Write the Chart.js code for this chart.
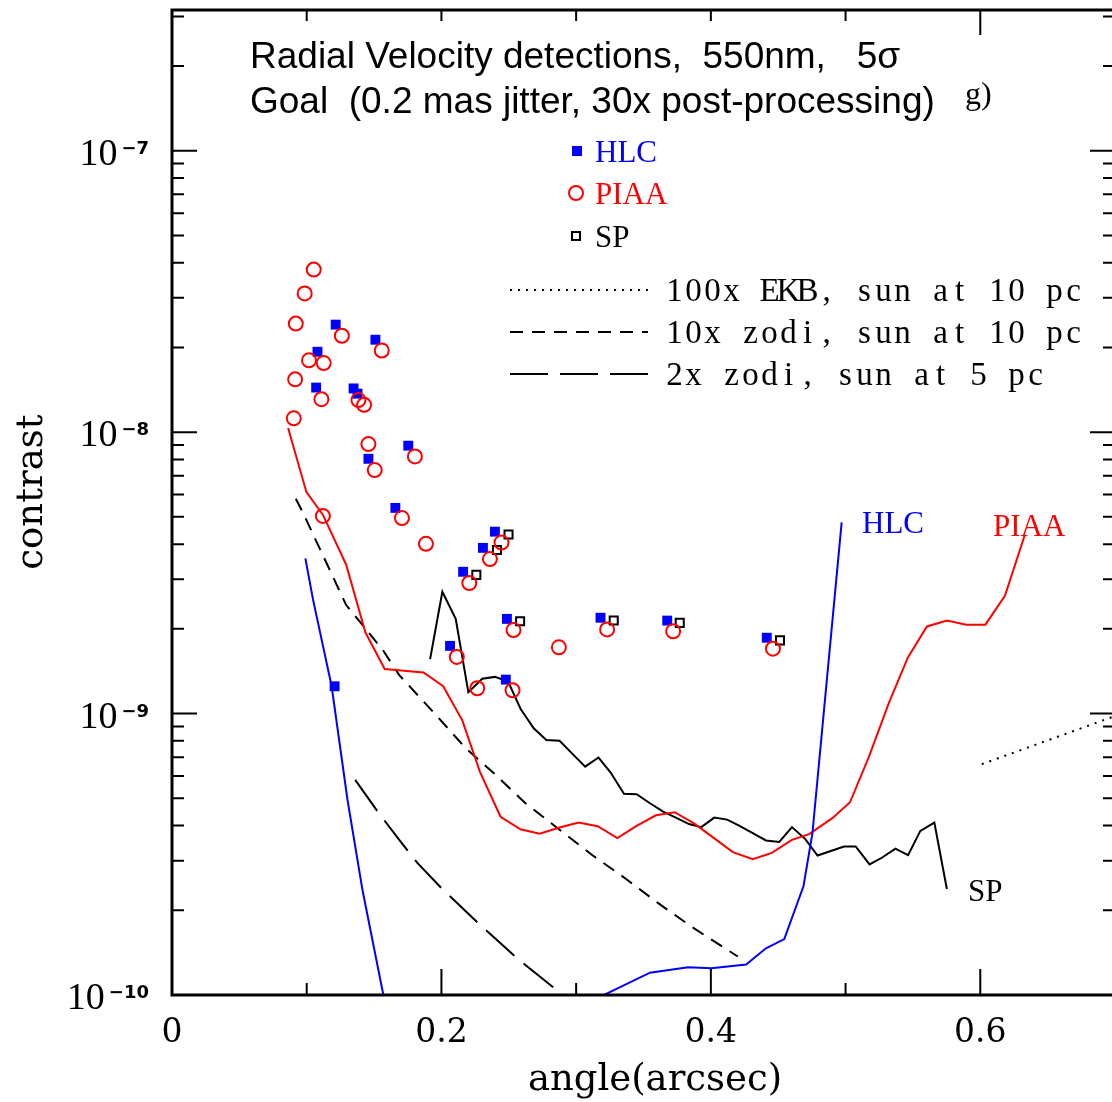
<!DOCTYPE html>
<html>
<head>
<meta charset="utf-8">
<script src="https://cdn.jsdelivr.net/npm/chart.js@4.4.1/dist/chart.umd.min.js"></script>
<style>
  html, body { margin: 0; padding: 0; background: #fff; overflow: hidden; }
  #wrap { width: 1124px; height: 1102px; }
</style>
</head>
<body>
<div id="wrap"><canvas id="rvChart" width="1124" height="1102"></canvas></div>
<script>
// RV detections, marker points (angle in arcsec, contrast)
const hlcPtsX = [0.107, 0.108, 0.1207, 0.1215, 0.1348, 0.1377, 0.1458, 0.151, 0.1658, 0.1754, 0.2064, 0.2161, 0.2308, 0.2397, 0.2478, 0.2486, 0.3181, 0.3676, 0.4415];
const hlcPtsY = [1.44e-8, 1.93e-8, 1.25e-9, 2.41e-8, 1.43e-8, 1.37e-8, 8.04e-9, 2.13e-8, 5.38e-9, 8.95e-9, 1.74e-9, 3.19e-9, 3.88e-9, 4.43e-9, 1.32e-9, 2.17e-9, 2.19e-9, 2.14e-9, 1.86e-9];

const piaaPtsX = [0.0904, 0.0914, 0.0919, 0.0985, 0.1017, 0.1052, 0.1109, 0.1120, 0.1126, 0.1261, 0.1384, 0.1426, 0.1458, 0.1505, 0.1557, 0.1707, 0.1803, 0.1885, 0.2114, 0.2207, 0.2266, 0.2360, 0.2446, 0.2528, 0.2535, 0.2872, 0.3230, 0.3720, 0.4461];
const piaaPtsY = [1.12e-8, 1.54e-8, 2.43e-8, 3.11e-8, 1.80e-8, 3.78e-8, 1.31e-8, 5.04e-9, 1.76e-8, 2.20e-8, 1.30e-8, 1.25e-8, 9.07e-9, 7.33e-9, 1.95e-8, 4.95e-9, 8.20e-9, 4.01e-9, 1.59e-9, 2.91e-9, 1.23e-9, 3.54e-9, 4.05e-9, 1.21e-9, 1.98e-9, 1.72e-9, 1.99e-9, 1.96e-9, 1.70e-9];

const spPtsX = [0.2259, 0.2412, 0.2498, 0.2584, 0.3279, 0.3769, 0.4513];
const spPtsY = [3.11e-9, 3.81e-9, 4.33e-9, 2.13e-9, 2.14e-9, 2.10e-9, 1.82e-9];

// contrast curves
const hlcCurveAX = [0.0990, 0.1047, 0.1185, 0.1303, 0.1414, 0.1569, 0.1600];
const hlcCurveAY = [3.56e-9, 2.54e-9, 1.25e-9, 4.93e-10, 2.36e-10, 1.0e-10, 8.5e-11];
const hlcCurveBX = [0.309, 0.3548, 0.3831, 0.4003, 0.4262, 0.4409, 0.4545, 0.4688, 0.4754, 0.4971];
const hlcCurveBY = [9.4e-11, 1.20e-10, 1.254e-10, 1.244e-10, 1.283e-10, 1.466e-10, 1.58e-10, 2.44e-10, 3.76e-10, 4.78e-9];

const piaaCurveX = [0.0862, 0.0998, 0.1120, 0.1293, 0.1436, 0.1579, 0.1722, 0.1867, 0.2013, 0.2155, 0.2286, 0.2439, 0.2587, 0.2729, 0.2870, 0.3018, 0.3160, 0.3306, 0.3449, 0.3592, 0.3732, 0.3875, 0.4016, 0.4163, 0.4311, 0.4452, 0.4602, 0.4730, 0.4902, 0.5033, 0.5174, 0.5321, 0.5462, 0.5604, 0.5753, 0.5895, 0.6038, 0.6183, 0.6331];
const piaaCurveY = [1.034e-8, 6.12e-9, 5.09e-9, 3.38e-9, 1.94e-9, 1.44e-9, 1.42e-9, 1.40e-9, 1.25e-9, 9.46e-10, 6.21e-10, 4.30e-10, 3.88e-10, 3.74e-10, 3.93e-10, 4.10e-10, 3.98e-10, 3.61e-10, 3.99e-10, 4.35e-10, 4.46e-10, 4.07e-10, 3.63e-10, 3.22e-10, 3.04e-10, 3.20e-10, 3.56e-10, 3.73e-10, 4.25e-10, 4.84e-10, 7.03e-10, 1.089e-9, 1.58e-9, 2.04e-9, 2.14e-9, 2.07e-9, 2.07e-9, 2.62e-9, 4.32e-9];

const spCurveX = [0.1916, 0.2007, 0.2106, 0.2200, 0.2303, 0.2397, 0.2495, 0.2587, 0.2685, 0.2779, 0.2877, 0.2973, 0.3067, 0.3166, 0.3256, 0.3355, 0.3449, 0.3548, 0.3646, 0.3740, 0.3838, 0.3929, 0.4025, 0.4121, 0.4213, 0.4311, 0.4409, 0.4508, 0.4602, 0.4701, 0.4792, 0.4890, 0.4989, 0.5075, 0.5178, 0.5272, 0.5370, 0.5464, 0.5555, 0.5659, 0.5752];
const spCurveY = [1.561e-9, 2.71e-9, 2.17e-9, 1.19e-9, 1.33e-9, 1.35e-9, 1.30e-9, 1.04e-9, 8.87e-10, 8.06e-10, 8.0e-10, 7.19e-10, 6.48e-10, 6.98e-10, 6.17e-10, 5.19e-10, 5.17e-10, 4.80e-10, 4.48e-10, 4.27e-10, 4.05e-10, 3.95e-10, 4.27e-10, 4.20e-10, 3.99e-10, 3.76e-10, 3.54e-10, 3.50e-10, 3.95e-10, 3.58e-10, 3.13e-10, 3.25e-10, 3.37e-10, 3.37e-10, 2.91e-10, 3.08e-10, 3.31e-10, 3.14e-10, 3.83e-10, 4.10e-10, 2.38e-10];

// background levels
const ekbX = [0.6011, 0.70];
const ekbY = [6.61e-10, 9.8e-10];
const zodi10X = [0.0919, 0.0973, 0.1293, 0.1564, 0.1687, 0.1970, 0.2180, 0.2402, 0.2624, 0.2846, 0.3116, 0.3363, 0.3609, 0.3855, 0.4200];
const zodi10Y = [5.80e-9, 5.16e-9, 2.43e-9, 1.685e-9, 1.37e-9, 9.76e-10, 7.53e-10, 6.06e-10, 4.80e-10, 3.97e-10, 3.15e-10, 2.60e-10, 2.12e-10, 1.75e-10, 1.37e-10];
const zodi2X = [0.1360, 0.1527, 0.1687, 0.1823, 0.2007, 0.2279, 0.2562, 0.2857, 0.2914];
const zodi2Y = [5.81e-10, 4.48e-10, 3.56e-10, 2.94e-10, 2.38e-10, 1.79e-10, 1.35e-10, 1.04e-10, 0.96e-10];

const xTicks = [0, 0.1, 0.2, 0.3, 0.4, 0.5, 0.6, 0.7];
const xTickLabels = ['0', '', '0.2', '', '0.4', '', '0.6', ''];
const yDecades = [-10, -9, -8, -7];

const lineKeys = [
    { text: '100x EKB, sun at 10 pc', dash: [2, 6] },
    { text: '10x zodi, sun at 10 pc', dash: [13, 9] },
    { text: '2x zodi, sun at 5 pc', dash: [38, 12] }
];

function pts(xs, ys) {
    return xs.map((x, i) => ({ x: x, y: ys[i] }));
}

function curve(xs, ys, color, dash) {
    return {
        data: pts(xs, ys),
        showLine: true,
        borderColor: color,
        borderWidth: 2,
        borderDash: dash || [],
        pointRadius: 0,
        fill: false,
        tension: 0
    };
}

const SERIF = '"Liberation Serif", "Times New Roman", serif';
const DSERIF = '"DejaVu Serif", serif';

const framePlugin = {
    id: 'frame',
    afterDraw(chart) {
        const ctx = chart.ctx;
        const xs = chart.scales.x, ys = chart.scales.y;
        const a = chart.chartArea;
        ctx.save();
        ctx.strokeStyle = '#000';
        ctx.fillStyle = '#000';

        // axes frame
        ctx.lineWidth = 3;
        ctx.setLineDash([]);
        ctx.strokeRect(a.left, a.top, a.right - a.left, a.bottom - a.top);

        // x ticks
        ctx.lineWidth = 2;
        xTicks.forEach((v, i) => {
            const px = xs.getPixelForValue(v);
            const major = i % 2 === 0;
            ctx.beginPath();
            ctx.moveTo(px, a.bottom);
            ctx.lineTo(px, a.bottom - (major ? 26 : 12));
            ctx.moveTo(px, a.top);
            ctx.lineTo(px, a.top + (v === 0.6 ? 25 : 11));
            ctx.stroke();
        });

        // y ticks, decades and 2..9
        for (let e = -10; e <= -7; e++) {
            for (let m = 1; m <= 9; m++) {
                const v = m * Math.pow(10, e);
                if (v > ys.max * 1.0001) continue;
                const py = ys.getPixelForValue(v);
                const len = m === 1 ? 25 : 12;
                ctx.beginPath();
                ctx.moveTo(a.left, py);
                ctx.lineTo(a.left + len, py);
                ctx.moveTo(a.right, py);
                ctx.lineTo(a.right - len, py);
                ctx.stroke();
            }
        }

        // x tick labels
        ctx.font = '33px ' + DSERIF;
        ctx.textAlign = 'center';
        ctx.textBaseline = 'alphabetic';
        xTicks.forEach((v, i) => {
            if (!xTickLabels[i]) return;
            ctx.fillText(xTickLabels[i], xs.getPixelForValue(v), a.bottom + 47);
        });

        // y tick labels 10^n
        yDecades.forEach(e => {
            const py = ys.getPixelForValue(Math.pow(10, e));
            ctx.font = 'bold 18px "DejaVu Sans", sans-serif';
            const sup = '\u2212' + Math.abs(e);
            const supW = ctx.measureText(sup).width;
            const sx = 149 - supW;
            ctx.textAlign = 'left';
            ctx.fillText(sup, sx, py + 3);
            ctx.font = '38px ' + SERIF;
            ctx.textAlign = 'right';
            ctx.fillText('10', sx - 4, py + 14);
        });

        // axis titles
        ctx.font = '37px ' + DSERIF;
        ctx.textAlign = 'center';
        ctx.fillText('angle(arcsec)', 655, 1090);
        ctx.save();
        ctx.translate(42, 492);
        ctx.rotate(-Math.PI / 2);
        ctx.fillText('contrast', 0, 0);
        ctx.restore();

        // header text
        ctx.textAlign = 'left';
        ctx.font = '37px "Liberation Sans", Arial, sans-serif';
        ctx.fillText('Radial Velocity detections,  550nm,   5\u03c3', 250, 68);
        ctx.fillText('Goal  (0.2 mas jitter, 30x post-processing)', 250, 113);
        ctx.font = '32px ' + SERIF;
        ctx.fillText('g)', 965, 104);

        // symbol key
        ctx.fillStyle = '#0000ff';
        ctx.fillRect(572, 146, 10, 10);
        ctx.strokeStyle = '#ff0000';
        ctx.lineWidth = 2;
        ctx.beginPath();
        ctx.arc(576, 193, 7, 0, Math.PI * 2);
        ctx.stroke();
        ctx.strokeStyle = '#000';
        ctx.strokeRect(572, 232, 8, 8);
        ctx.font = '31px ' + SERIF;
        ctx.fillStyle = '#0000ff';
        ctx.fillText('HLC', 595, 162);
        ctx.fillStyle = '#ff0000';
        ctx.fillText('PIAA', 595, 204);
        ctx.fillStyle = '#000';
        ctx.fillText('SP', 595, 247);

        // line key
        lineKeys.forEach((k, i) => {
            const y = 290 + i * 42;
            ctx.strokeStyle = '#000';
            ctx.lineWidth = 2;
            ctx.setLineDash(k.dash);
            ctx.beginPath();
            ctx.moveTo(510, y);
            ctx.lineTo(648, y);
            ctx.stroke();
            ctx.setLineDash([]);
            ctx.font = '33px ' + SERIF;
            ctx.textAlign = 'center';
            for (let c = 0; c < k.text.length; c++) {
                ctx.fillText(k.text[c], 665 + 9.5 + c * 19, y + 11);
            }
        });

        // curve names
        ctx.textAlign = 'left';
        ctx.font = '31px ' + SERIF;
        ctx.fillStyle = '#0000ff';
        ctx.fillText('HLC', 862, 533);
        ctx.fillStyle = '#ff0000';
        ctx.fillText('PIAA', 993, 536);
        ctx.fillStyle = '#000';
        ctx.fillText('SP', 968, 901);
        ctx.restore();
    }
};

new Chart(document.getElementById('rvChart').getContext('2d'), {
    type: 'scatter',
    data: {
        datasets: [
            {
                data: pts(piaaPtsX, piaaPtsY),
                pointStyle: 'circle',
                pointRadius: 7,
                borderColor: '#ff0000',
                backgroundColor: 'rgba(0,0,0,0)',
                borderWidth: 2
            },
            {
                data: pts(spPtsX, spPtsY),
                pointStyle: 'rect',
                pointRadius: 5.7,
                borderColor: '#000000',
                backgroundColor: 'rgba(0,0,0,0)',
                borderWidth: 2
            },
            {
                data: pts(hlcPtsX, hlcPtsY),
                pointStyle: 'rect',
                pointRadius: 7,
                borderWidth: 0,
                backgroundColor: '#0000ff',
                borderColor: '#0000ff'
            },
            curve(hlcCurveAX, hlcCurveAY, '#0000ff'),
            curve(hlcCurveBX, hlcCurveBY, '#0000ff'),
            curve(piaaCurveX, piaaCurveY, '#ff0000'),
            curve(spCurveX, spCurveY, '#000000'),
            curve(ekbX, ekbY, '#000000', [2, 6]),
            curve(zodi10X, zodi10Y, '#000000', [13, 9]),
            curve(zodi2X, zodi2Y, '#000000', [38, 12])
        ]
    },
    options: {
        responsive: false,
        animation: false,
        devicePixelRatio: 1,
        layout: { padding: { left: 172, top: 10, right: 5, bottom: 107 } },
        plugins: {
            legend: { display: false },
            tooltip: { enabled: false }
        },
        scales: {
            x: { type: 'linear', min: 0, max: 0.7, display: false },
            y: { type: 'logarithmic', min: 1e-10, max: Math.pow(10, -6.5), display: false }
        }
    },
    plugins: [framePlugin]
});
</script>
</body>
</html>
